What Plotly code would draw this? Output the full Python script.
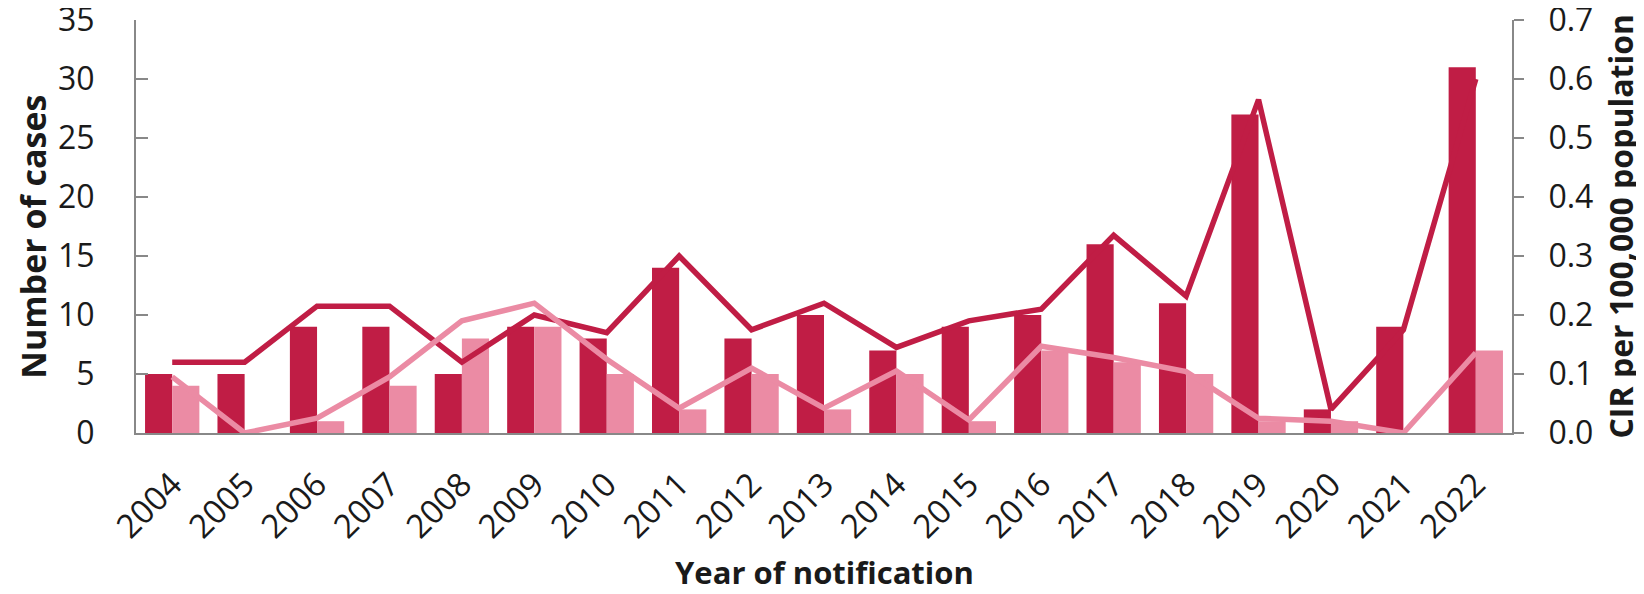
import plotly.graph_objects as go

# ---- data ----
years = ["2004", "2005", "2006", "2007", "2008", "2009", "2010", "2011", "2012", "2013",
         "2014", "2015", "2016", "2017", "2018", "2019", "2020", "2021", "2022"]
cases_dark = [5, 5, 9, 9, 5, 9, 8, 14, 8, 10, 7, 9, 10, 16, 11, 27, 2, 9, 31]
cases_light = [4, 0, 1, 4, 8, 9, 5, 2, 5, 2, 5, 1, 7, 6, 5, 1, 1, 0, 7]
cir_dark = [0.12, 0.12, 0.215, 0.215, 0.12, 0.20, 0.17, 0.30, 0.175, 0.22, 0.145, 0.19,
            0.21, 0.335, 0.232, 0.565, 0.04, 0.175, 0.60]
cir_light = [0.095, 0.0, 0.025, 0.095, 0.19, 0.22, 0.125, 0.042, 0.11, 0.042, 0.105, 0.022,
             0.147, 0.128, 0.104, 0.025, 0.02, 0.0, 0.136]
left_ticks = [0, 5, 10, 15, 20, 25, 30, 35]
right_ticks = [0.0, 0.1, 0.2, 0.3, 0.4, 0.5, 0.6, 0.7]

DARK = "#C01D45"
LIGHT = "#EB8BA4"
AXIS = "#888888"
FONT = "Open Sans"
TXT = "#1a1a1a"

fig = go.Figure()
fig.add_trace(go.Bar(x=years, y=cases_dark, name="Cases (dark)", marker=dict(color=DARK, line=dict(width=0))))
fig.add_trace(go.Bar(x=years, y=cases_light, name="Cases (light)", marker=dict(color=LIGHT, line=dict(width=0))))
fig.add_trace(go.Scatter(x=years, y=cir_dark, name="CIR (dark)", mode="lines", yaxis="y2",
                         line=dict(color=DARK, width=5.5)))
fig.add_trace(go.Scatter(x=years, y=cir_light, name="CIR (light)", mode="lines", yaxis="y2",
                         line=dict(color=LIGHT, width=5.5)))

fig.update_layout(
    width=1636, height=586,
    margin=dict(l=128, r=132, t=12, b=161, autoexpand=False),
    paper_bgcolor="white", plot_bgcolor="white",
    showlegend=False,
    barmode="group", bargap=0.25, bargroupgap=0,
    font=dict(family=FONT, color=TXT),
    xaxis=dict(type="category", showline=True, linecolor=AXIS, linewidth=2, ticks="",
               automargin=False,
               tickangle=-45, tickfont=dict(size=33, family=FONT, color=TXT),
               ticklabelstandoff=17, showgrid=False, zeroline=False),
    yaxis=dict(range=[0, 35], tickmode="array", tickvals=left_ticks,
               ticktext=[str(v) for v in left_ticks], ticklabeloverflow="allow",
               automargin=False,
               ticks="inside", ticklen=12, tickcolor=AXIS, tickwidth=2,
               showline=True, linecolor=AXIS, linewidth=2, showgrid=False, zeroline=False,
               tickfont=dict(size=32, family=FONT, color=TXT), ticklabelstandoff=33),
    yaxis2=dict(range=[0, 0.7], tickmode="array", tickvals=right_ticks,
                ticktext=[f"{v:.1f}" for v in right_ticks], ticklabeloverflow="allow",
                automargin=False,
                overlaying="y", side="right",
                ticks="outside", ticklen=10, tickcolor=AXIS, tickwidth=2,
                showline=True, linecolor=AXIS, linewidth=2, showgrid=False, zeroline=False,
                tickfont=dict(size=32, family=FONT, color=TXT), ticklabelstandoff=18),
    annotations=[
        dict(text="<b>Number of cases</b>", xref="paper", yref="paper", x=-0.0749, y=0.475,
             xanchor="center", yanchor="middle", textangle=-90, showarrow=False,
             font=dict(size=34, family=FONT, color=TXT)),
        dict(text="<b>CIR per 100,000 population</b>", xref="paper", yref="paper", x=1.0785, y=0.5,
             xanchor="center", yanchor="middle", textangle=-90, showarrow=False,
             font=dict(size=32, family=FONT, color=TXT)),
        dict(text="<b>Year of notification</b>", xref="paper", yref="paper", x=0.5, y=-0.337,
             xanchor="center", yanchor="middle", showarrow=False,
             font=dict(size=31, family=FONT, color=TXT)),
    ],
)

fig.write_html("out.html")
